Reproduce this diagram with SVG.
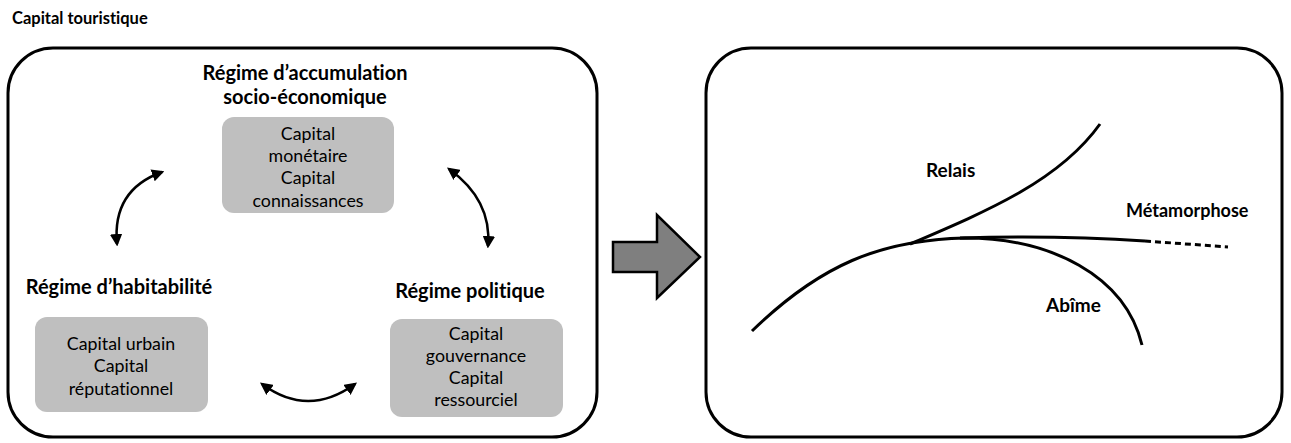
<svg xmlns="http://www.w3.org/2000/svg" width="1291" height="443" viewBox="0 0 1291 443">
<style>
text{font-family:Lato,"Liberation Sans",sans-serif;fill:#000;font-variant-ligatures:none}
.t{font-size:16.5px;font-weight:bold}
.h{font-size:20px;font-weight:bold;text-anchor:middle}
.c{font-size:17.8px;text-anchor:middle}
.l{font-size:18px;font-weight:bold}
.frame{fill:#fff;stroke:#000;stroke-width:3}
.g{fill:#bfbfbf}
.con{fill:none;stroke:#000;stroke-width:2.5}
.cv{fill:none;stroke:#000;stroke-width:3}
</style>
<defs>
<marker id="ah" viewBox="0 0 10 10" refX="8" refY="5" markerWidth="5" markerHeight="5" orient="auto-start-reverse" markerUnits="strokeWidth">
<path d="M0,0 L10,5 L0,10 z" fill="#000"/>
</marker>
</defs>
<text class="t" x="12" y="24">Capital touristique</text>
<g id="left-frame">
<rect class="frame" x="8" y="48" width="589" height="389" rx="45"/>
</g>
<g id="regime-accumulation">
<text class="h" x="305" y="80">Régime d’accumulation</text>
<text class="h" x="305" y="104">socio-économique</text>
<rect class="g" x="222" y="117" width="172" height="96" rx="12"/>
<text class="c" x="308" y="140">Capital</text>
<text class="c" x="308" y="162">monétaire</text>
<text class="c" x="308" y="184">Capital</text>
<text class="c" x="308" y="207">connaissances</text>
</g>
<g id="regime-habitabilite">
<text class="h" x="119" y="294">Régime d’habitabilité</text>
<rect class="g" x="35" y="317" width="173" height="95" rx="12"/>
<text class="c" x="121" y="350">Capital urbain</text>
<text class="c" x="121" y="372">Capital</text>
<text class="c" x="121" y="395">réputationnel</text>
</g>
<g id="regime-politique">
<text class="h" x="470" y="298">Régime politique</text>
<rect class="g" x="390" y="319" width="173" height="98" rx="12"/>
<text class="c" x="476" y="340">Capital</text>
<text class="c" x="476" y="362">gouvernance</text>
<text class="c" x="476" y="384">Capital</text>
<text class="c" x="476" y="406">ressourciel</text>
</g>
<g id="connectors">
<path class="con" d="M117,244 Q112,190 162,172" marker-start="url(#ah)" marker-end="url(#ah)"/>
<path class="con" d="M449,169 Q492,200 488,246" marker-start="url(#ah)" marker-end="url(#ah)"/>
<path class="con" d="M262,384 Q308,418 355,384" marker-start="url(#ah)" marker-end="url(#ah)"/>
</g>
<g id="big-arrow">
<path d="M613,242 L657,242 L657,215 L700,257 L657,298 L657,272 L613,272 Z" fill="#7f7f7f" stroke="#000" stroke-width="2.5"/>
</g>
<g id="right-frame">
<rect class="frame" x="706" y="48" width="576" height="389" rx="45"/>
</g>
<g id="curves">
<path class="cv" d="M752,331 C820,265 880,240 965,238 C1050,238 1125,275 1142,345"/>
<path class="cv" d="M910,244 C990,210 1060,180 1100,124"/>
<path class="cv" d="M960,238 C1030,236 1100,238 1145,241"/>
<path class="cv" d="M1145,241 L1228,247" stroke-dasharray="6,4" stroke-width="2"/>
<text class="l" x="926" y="177" style="font-size:19px">Relais</text>
<text class="l" x="1126" y="217">Métamorphose</text>
<text class="l" x="1046" y="312" style="font-size:19px">Abîme</text>
</g>
</svg>
